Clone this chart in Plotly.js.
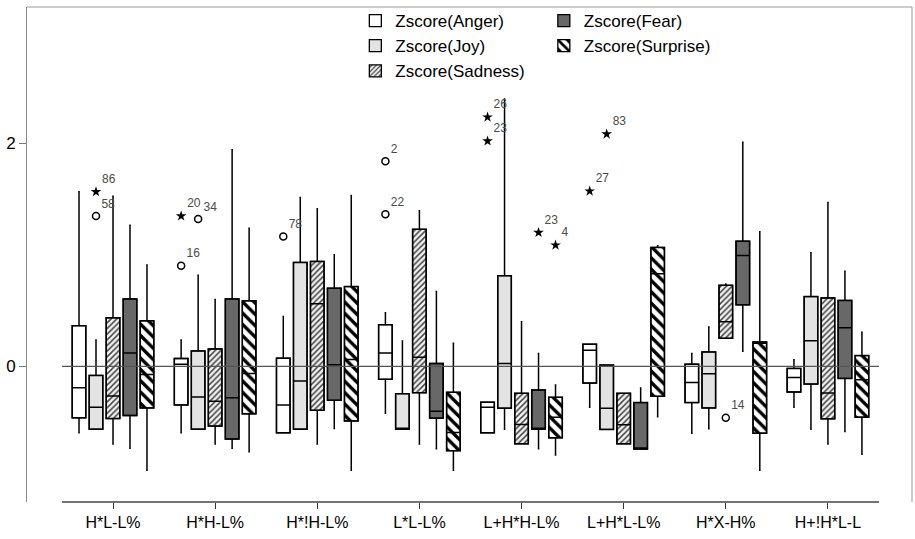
<!DOCTYPE html>
<html>
<head>
<meta charset="utf-8">
<script src="https://cdn.plot.ly/plotly-3.0.1.min.js"></script>
<style>html,body{margin:0;padding:0;background:#fff;}#chart{width:915px;height:539px;}</style>
</head>
<body>
<div id="chart"></div>
<script>
// ---- data ----
var categories = ["H*L-L%", "H*H-L%", "H*!H-L%", "L*L-L%", "L+H*H-L%", "L+H*L-L%", "H*X-H%", "H+!H*L-L"];
var seriesNames = ["Zscore(Anger)", "Zscore(Joy)", "Zscore(Sadness)", "Zscore(Fear)", "Zscore(Surprise)"];

var angerLow = [-0.596, -0.596, -0.596, -0.420, -0.596, -0.367, -0.599, -0.367];
var angerQ1  = [-0.462, -0.346, -0.596, -0.117, -0.596, -0.150, -0.325, -0.230];
var angerMed = [-0.192, 0.019, -0.346, 0.120, -0.367, 0.144, -0.144, -0.100];
var angerQ3  = [0.364, 0.070, 0.073, 0.373, -0.322, 0.198, 0.019, -0.019];
var angerHigh= [1.564, 0.236, 0.447, 0.480, -0.322, 0.198, 0.114, 0.058];

var joyLow = [-0.563, -0.563, -0.563, -0.563, -0.563, -0.566, -0.560, -0.563];
var joyQ1  = [-0.563, -0.563, -0.563, -0.563, -0.376, -0.566, -0.373, -0.159];
var joyMed = [-0.367, -0.275, -0.132, -0.563, 0.025, -0.376, -0.067, 0.230];
var joyQ3  = [-0.082, 0.138, 0.931, -0.245, 0.812, 0.011, 0.129, 0.625];
var joyHigh= [0.236, 0.815, 1.513, 0.227, 2.396, 0.011, 0.352, 1.018];

var sadLow = [-0.697, -0.697, -0.697, -0.697, -0.694, -0.694, 0.251, -0.697];
var sadQ1  = [-0.468, -0.536, -0.394, -0.236, -0.694, -0.694, 0.251, -0.471];
var sadMed = [-0.266, -0.313, 0.560, 0.082, -0.521, -0.524, 0.400, -0.239];
var sadQ3  = [0.435, 0.156, 0.940, 1.228, -0.242, -0.242, 0.726, 0.613];
var sadHigh= [1.525, 0.599, 1.413, 1.395, 0.400, -0.242, 0.738, 1.469];

var fearLow = [-0.735, -0.735, -0.557, -0.738, -0.738, -0.741, 0.135, -0.584];
var fearQ1  = [-0.441, -0.652, -0.305, -0.465, -0.565, -0.741, 0.551, -0.109];
var fearMed = [0.120, -0.281, 0.013, -0.403, -0.563, -0.741, 0.994, 0.346];
var fearQ3  = [0.604, 0.604, 0.700, 0.025, -0.212, -0.325, 1.121, 0.590];
var fearHigh= [1.264, 1.941, 1.000, 0.670, 0.114, -0.195, 2.007, 0.851];

var surLow = [-0.931, -0.765, -0.931, -0.931, -0.795, -0.453, -0.931, -0.789];
var surQ1  = [-0.373, -0.426, -0.489, -0.756, -0.640, -0.269, -0.599, -0.456];
var surMed = [-0.073, -0.064, 0.061, -0.593, -0.456, 0.830, 0.207, -0.120];
var surQ3  = [0.408, 0.587, 0.715, -0.233, -0.278, 1.065, 0.218, 0.096];
var surHigh= [0.907, 1.237, 1.531, 0.207, -0.168, 1.080, 1.205, 0.305];

// outliers: category index, series index, value, case label, kind
var outlierCat    = [0, 0, 1, 1, 1, 2, 3, 3, 4, 4, 4, 4, 5, 5, 6];
var outlierSeries = [1, 1, 0, 0, 1, 0, 0, 0, 0, 0, 3, 4, 0, 1, 2];
var outlierValue  = [1.347, 1.564, 1.347, 0.902, 1.321, 1.163, 1.837, 1.362, 2.233, 2.019, 1.199, 1.086, 1.570, 2.081, -0.462];
var outlierLabel  = ["58", "86", "20", "16", "34", "78", "2", "22", "26", "23", "23", "4", "27", "83", "14"];
var outlierKind   = ["o", "*", "*", "o", "o", "o", "o", "o", "*", "*", "*", "*", "*", "*", "o"];

// ---- styles ----
var FONT = "Liberation Sans, Arial, sans-serif";
var BOXGAP = 0.168, BOXGROUPGAP = 0.2;
var styles = [
  {color: "#ffffff", pattern: {shape: ""}, legend: "legend"},
  {color: "#e3e3e3", pattern: {shape: ""}, legend: "legend"},
  {color: "#ffffff", pattern: {shape: "/", fgcolor: "#444444", bgcolor: "#f4f4f4", size: 4, solidity: 0.38}, legend: "legend"},
  {color: "#686868", pattern: {shape: ""}, legend: "legend2"},
  {color: "#ffffff", pattern: {shape: "\\", fgcolor: "#000000", bgcolor: "#ffffff", size: 8, solidity: 0.42}, legend: "legend2"}
];

var stats = [
  [angerLow, angerQ1, angerMed, angerQ3, angerHigh],
  [joyLow, joyQ1, joyMed, joyQ3, joyHigh],
  [sadLow, sadQ1, sadMed, sadQ3, sadHigh],
  [fearLow, fearQ1, fearMed, fearQ3, fearHigh],
  [surLow, surQ1, surMed, surQ3, surHigh]
];
var xs = categories.map(function(c, i){ return i; });

var traces = [];
// pattern / colour fills (bars from q1 to q3)
stats.forEach(function(s, k){
  traces.push({
    type: "bar", name: seriesNames[k], x: xs,
    base: s[1], y: s[3].map(function(v, i){ return v - s[1][i]; }),
    marker: {color: styles[k].color, pattern: styles[k].pattern, line: {color: "#000", width: 1.3}},
    legend: styles[k].legend, showlegend: true, hoverinfo: "skip"
  });
});
// box outlines, medians, whiskers
stats.forEach(function(s, k){
  traces.push({
    type: "box", name: seriesNames[k], x: xs,
    lowerfence: s[0], q1: s[1], median: s[2], q3: s[3], upperfence: s[4],
    fillcolor: "rgba(0,0,0,0)", line: {color: "#000", width: 1.5},
    whiskerwidth: 0.12, boxpoints: false, showlegend: false, hoverinfo: "skip"
  });
});
// outliers
function offsetOf(s){ return (1 - BOXGAP) * (-0.5 + (s + 0.5) / seriesNames.length); }
["o", "*"].forEach(function(kind){
  var ox = [], oy = [], ot = [];
  outlierValue.forEach(function(v, i){
    if (outlierKind[i] !== kind) return;
    ox.push(outlierCat[i] + offsetOf(outlierSeries[i]));
    oy.push(v); ot.push(outlierLabel[i]);
  });
  traces.push({
    type: "scatter", mode: "markers+text", x: ox, y: oy, text: ot,
    textposition: "top right", textfont: {family: FONT, size: 12, color: "#4a4a4a"},
    marker: kind === "o" ? {symbol: "circle-open", size: 7, color: "#000", line: {width: 1.5}}
                         : {symbol: "star", size: 8, color: "#000"},
    showlegend: false, hoverinfo: "skip", cliponaxis: false
  });
});

var layout = {
  width: 915, height: 539,
  margin: {l: 27, r: 3, t: 4, b: 37},
  paper_bgcolor: "#fff", plot_bgcolor: "#fff",
  font: {family: FONT, size: 17, color: "#000"},
  barmode: "group", bargap: BOXGAP, bargroupgap: BOXGROUPGAP,
  boxmode: "group", boxgap: BOXGAP, boxgroupgap: BOXGROUPGAP,
  xaxis: {range: [-0.842, 7.823], tickmode: "array", tickvals: xs, ticktext: categories,
          ticks: "outside", ticklen: 6, tickcolor: "#333", showline: false, showgrid: false,
          zeroline: false, tickfont: {family: FONT, size: 16}},
  yaxis: {range: [-1.216, 3.22], tick0: 0, dtick: 2, ticks: "outside", ticklen: 7,
          tickcolor: "#777", showline: true, linecolor: "#888", linewidth: 1,
          showgrid: false, zeroline: false, tickfont: {family: FONT, size: 17}},
  legend: {x: 0.371, y: 1.008, xanchor: "left", yanchor: "top", bgcolor: "rgba(0,0,0,0)",
           font: {family: FONT, size: 17}, tracegroupgap: 0},
  legend2: {x: 0.584, y: 1.008, xanchor: "left", yanchor: "top", bgcolor: "rgba(0,0,0,0)",
            font: {family: FONT, size: 17}, tracegroupgap: 0},
  shapes: [
    {type: "line", xref: "paper", yref: "paper", x0: 0, x1: 1, y0: 1, y1: 1, line: {color: "#999", width: 1}},
    {type: "line", xref: "paper", yref: "paper", x0: 1, x1: 1, y0: 0, y1: 1, line: {color: "#999", width: 1}},
    {type: "line", xref: "x", yref: "paper", x0: -0.5, x1: 7.5, y0: 0, y1: 0, line: {color: "#444", width: 1.5}},
    {type: "line", xref: "x", yref: "y", x0: -0.5, x1: 7.5, y0: 0, y1: 0, layer: "above", line: {color: "#555", width: 1.2}}
  ]
};

Plotly.newPlot("chart", traces, layout, {displayModeBar: false, staticPlot: true});
</script>
</body>
</html>
